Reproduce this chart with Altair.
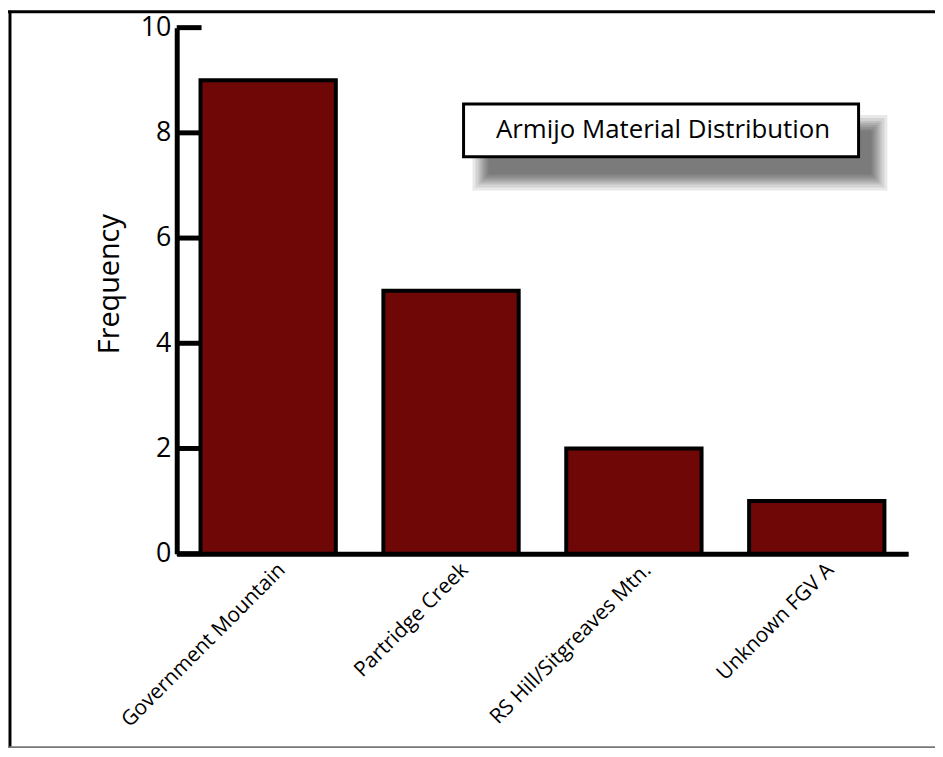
import altair as alt
import pandas as pd

categories = ["Government Mountain", "Partridge Creek", "RS Hill/Sitgreaves Mtn.", "Unknown FGV A"]
frequency = [9, 5, 2, 1]
y_ticks = [0, 2, 4, 6, 8, 10]
title_text = "Armijo Material Distribution"

FONT = "Open Sans"
W, H = 737, 530

df = pd.DataFrame({"cat": categories, "freq": frequency})
ticks_df = pd.DataFrame({"t": y_ticks})
one = pd.DataFrame({"a": [0]})

yscale = alt.Scale(domain=[0, 10], nice=False)

bars = alt.Chart(df).mark_bar(
    color="#6f0707", stroke="black", strokeWidth=4
).encode(
    x=alt.X("cat:N", sort=None,
            scale=alt.Scale(paddingInner=0.26, paddingOuter=0.13),
            axis=alt.Axis(title=None, ticks=False, domainWidth=5, domainColor="black",
                          labelAngle=-45, labelAlign="right", labelBaseline="middle",
                          labelFontSize=21, labelFont=FONT, labelColor="black",
                          labelPadding=13, labelOffset=14, labelLimit=400)),
    y=alt.Y("freq:Q", scale=yscale,
            axis=alt.Axis(values=y_ticks, ticks=False, grid=False, domainWidth=5,
                          domainColor="black", labelFontSize=27, labelFont=FONT,
                          labelColor="black", labelPadding=6,
                          title="Frequency", titleFontSize=29, titleFont=FONT,
                          titleFontWeight="normal", titleColor="black",
                          titleAngle=-90, titleX=-68, titleY=258,
                          titleAlign="center", titleBaseline="middle")),
)

tick_rules = alt.Chart(ticks_df).mark_rule(color="black", strokeWidth=5).encode(
    x=alt.value(0), x2=alt.value(25), y=alt.Y("t:Q", scale=yscale)
)

# Title box shadow (several translucent layers to mimic blur)
shadows = []
for grow in [16, 13, 10, 8, 6, 4, 2, 0]:
    shadows.append(
        alt.Chart(one).mark_rect(color="#222222", opacity=0.1).encode(
            x=alt.value(314 - grow), x2=alt.value(700 + grow),
            y=alt.value(104 - grow), y2=alt.value(148 + grow)
        )
    )

box = alt.Chart(one).mark_rect(fill="white", stroke="black", strokeWidth=3).encode(
    x=alt.value(289), x2=alt.value(687), y=alt.value(77), y2=alt.value(130)
)
box_text = alt.Chart(one).mark_text(
    text=title_text, font=FONT, fontSize=26, color="black", align="center", baseline="middle"
).encode(x=alt.value(490), y=alt.value(103))

frame_top = alt.Chart(one).mark_rule(color="black", strokeWidth=3).encode(
    x=alt.value(-170), x2=alt.value(770), y=alt.value(-16)
)
frame_left = alt.Chart(one).mark_rule(color="black", strokeWidth=3).encode(
    x=alt.value(-168), y=alt.value(-17), y2=alt.value(727)
)
frame_bottom = alt.Chart(one).mark_rule(color="#777777", strokeWidth=2).encode(
    x=alt.value(-170), x2=alt.value(770), y=alt.value(725)
)

chart = alt.layer(
    *shadows, box, box_text, bars, tick_rules, frame_top, frame_left, frame_bottom
).properties(
    width=W, height=H,
    autosize=alt.AutoSizeParams(type="none"),
    padding={"left": 170, "top": 17, "right": 27, "bottom": 193},
    background="white",
).configure_view(stroke=None)

chart.save("out.html", embed_options={"renderer": "svg", "actions": False})
